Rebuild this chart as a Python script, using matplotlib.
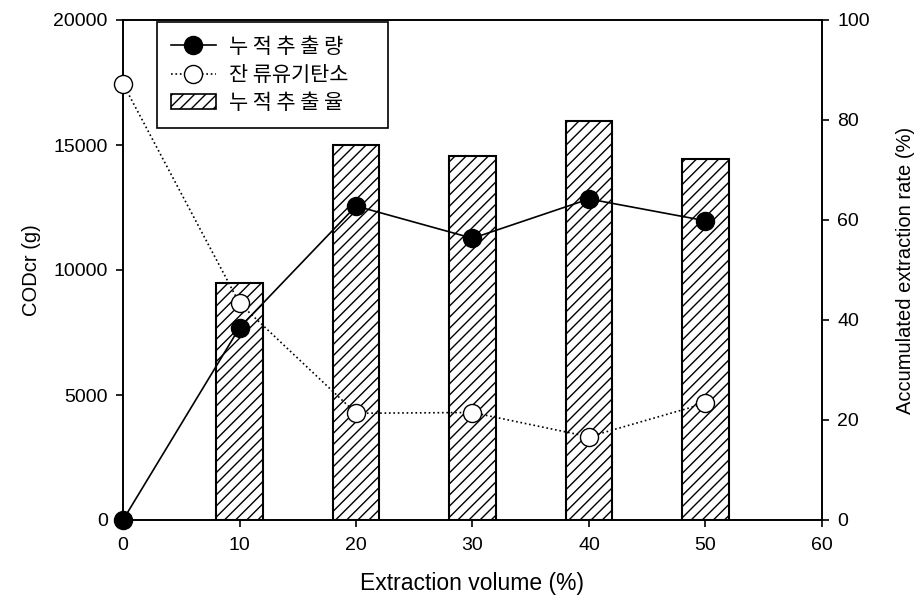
import matplotlib.pyplot as plt
from matplotlib.lines import Line2D
from matplotlib.patches import Patch

plt.rcParams['font.family'] = ['Liberation Sans', 'Noto Sans CJK KR', 'DejaVu Sans']
plt.rcParams['hatch.linewidth'] = 1.0

x_vol = [0, 10, 20, 30, 40, 50]
cum_extract = [0, 7690, 12560, 11270, 12840, 11970]
residual_toc = [17450, 8670, 4270, 4300, 3330, 4670]
bar_x = [10, 20, 30, 40, 50]
bar_rate = [47.5, 75.0, 72.9, 79.9, 72.2]

labels = ["누 적 추 출 량", "잔 류유기탄소", "누 적 추 출 율"]

fig = plt.figure(figsize=(9.18, 6.07), dpi=100)
ax = fig.add_axes([123/918, 1 - 520/607, 699/918, 500/607])
ax2 = ax.twinx()

ax2.bar(bar_x, bar_rate, width=4, color='white', edgecolor='black',
        linewidth=1.5, hatch='///')
ax2.set_ylim(0, 100)
ax2.set_yticks([0, 20, 40, 60, 80, 100])

ax.set_zorder(ax2.get_zorder() + 1)
ax.patch.set_visible(False)
ax.plot(x_vol, residual_toc, ':', color='black', lw=1.2, marker='o',
        ms=13, mfc='white', mec='black', mew=1.0, clip_on=False, zorder=3)
ax.plot(x_vol, cum_extract, '-', color='black', lw=1.2, marker='o',
        ms=13, mfc='black', mec='black', clip_on=False, zorder=4)

ax.set_xlim(0, 60)
ax.set_ylim(0, 20000)
ax.set_xticks(range(0, 61, 10))
ax.set_yticks(range(0, 20001, 5000))

for a in (ax, ax2):
    for s in a.spines.values():
        s.set_linewidth(1.2)
    a.tick_params(direction='out', length=5, width=1.2, labelsize=14, pad=6)
ax.tick_params(axis='x', pad=7)

ax.set_xlabel("Extraction volume (%)", fontsize=16.5, labelpad=13)
ax.set_ylabel("CODcr (g)", fontsize=14.5, labelpad=9)
ax2.set_ylabel("Accumulated extraction rate (%)", fontsize=14.5, labelpad=19)

handles = [
    Line2D([], [], ls='-', color='black', marker='o', ms=13, mfc='black', lw=1.2),
    Line2D([], [], ls=':', color='black', marker='o', ms=13, mfc='white', lw=1.2),
    Patch(facecolor='white', edgecolor='black', hatch='///', linewidth=1.2),
]
leg = ax.legend(handles, labels, loc='upper left',
                bbox_to_anchor=(34/699, 393/500, 231/699, 105/500), mode='expand',
                fancybox=False, edgecolor='black', framealpha=1,
                prop={'family': ['Noto Sans CJK KR', 'DejaVu Sans'], 'size': 15},
                handlelength=2.2, borderpad=0.65, labelspacing=0.3,
                handletextpad=0.6, borderaxespad=0)
leg.get_frame().set_linewidth(1.2)

fig.savefig("out.png", dpi=100)
